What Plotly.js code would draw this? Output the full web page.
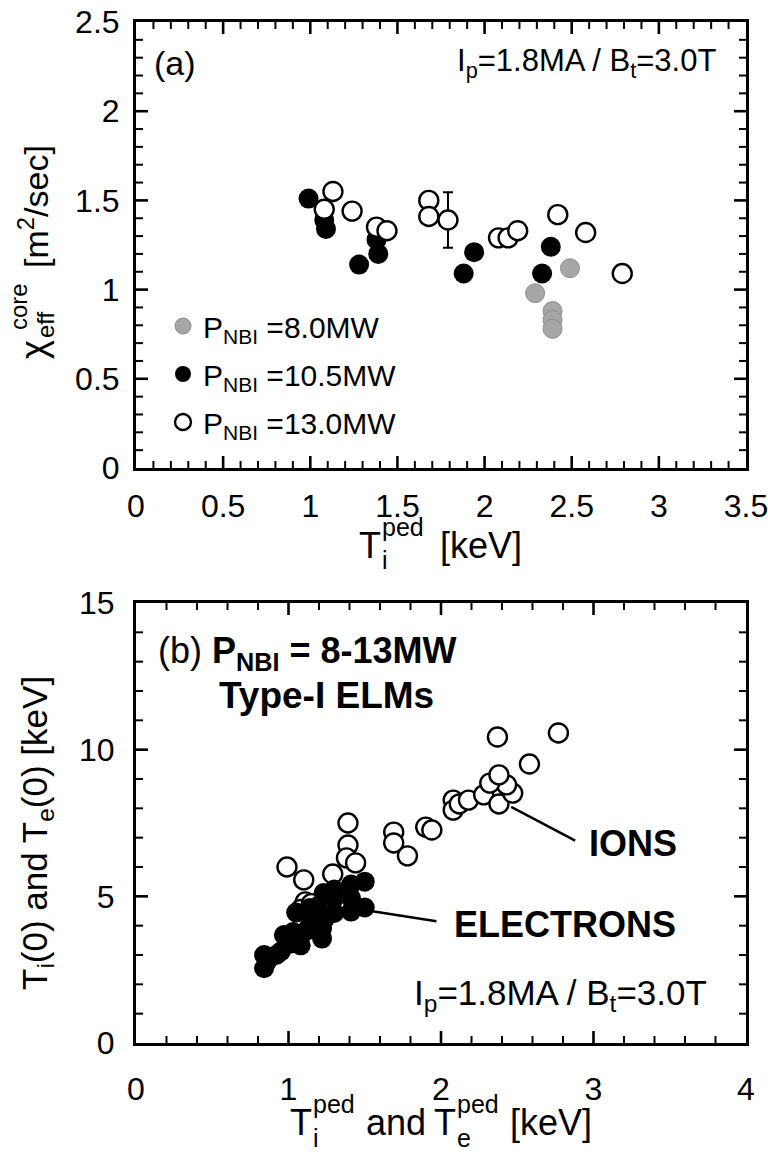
<!DOCTYPE html>
<html>
<head>
<meta charset="utf-8">
<script src="https://cdn.plot.ly/plotly-3.0.1.min.js"></script>
<style>
  html, body { margin: 0; padding: 0; background: #fff; }
  #chart { width: 768px; height: 1152px; }
</style>
</head>
<body>
<div id="chart"></div>
<script>
// ---- Panel (a): core effective heat diffusivity vs ion pedestal temperature ----
const nbiLabels = ['P<sub>NBI</sub> =8.0MW', 'P<sub>NBI</sub> =10.5MW', 'P<sub>NBI</sub> =13.0MW'];

const tiPed_8  = [2.29, 2.49, 2.39, 2.39, 2.39];
const chi_8    = [0.98, 1.12, 0.88, 0.83, 0.78];

const tiPed_105 = [0.99, 1.08, 1.09, 1.28, 1.38, 1.39, 1.88, 1.94, 2.33, 2.38];
const chi_105   = [1.51, 1.39, 1.34, 1.14, 1.28, 1.20, 1.09, 1.21, 1.09, 1.24];

const tiPed_13 = [1.13, 1.08, 1.24, 1.38, 1.44, 1.68, 1.68, 2.08, 2.135, 2.19, 2.42, 2.58, 2.79];
const chi_13   = [1.55, 1.45, 1.44, 1.35, 1.33, 1.50, 1.41, 1.29, 1.29, 1.33, 1.42, 1.32, 1.09];

// 13.0 MW shot shown with its uncertainty
const tiPed_err  = [1.79];
const chi_err    = [1.39];
const chi_errBar = [0.155];

// ---- Panel (b): central temperatures vs pedestal temperatures ----
const ionPed  = [0.99, 1.10, 1.29, 1.39, 1.39, 1.38, 1.44, 1.69, 1.69, 1.78, 1.90, 1.94, 1.11, 1.08, 1.15,
                 2.08, 2.08, 2.12, 2.18, 2.28, 2.38, 2.47, 2.43, 2.32, 2.38, 2.58, 2.37, 2.77];
const ionCore = [6.00, 5.56, 5.76, 7.50, 6.75, 6.31, 6.14, 7.19, 6.82, 6.38, 7.36, 7.26, 4.81, 4.55, 4.75,
                 8.28, 7.94, 8.15, 8.28, 8.46, 8.15, 8.52, 8.80, 8.86, 9.14, 9.51, 10.43, 10.57];

const elecPed  = [0.84, 0.86, 0.84, 0.92, 0.95, 1.01, 1.08, 0.97, 1.03, 1.11, 1.22, 1.14, 1.22, 1.16,
                  1.24, 1.05, 1.14, 1.19, 1.30, 1.41, 1.50, 1.30, 1.41, 1.23, 1.30, 1.41, 1.50];
const elecCore = [2.55, 2.78, 3.00, 3.00, 3.12, 3.38, 3.33, 3.68, 3.78, 3.80, 3.56, 4.02, 3.90, 4.15,
                  4.25, 4.45, 4.60, 4.66, 4.43, 4.48, 4.62, 4.94, 4.94, 5.11, 5.23, 5.40, 5.50];

// ---- page geometry helpers (pixels -> paper fractions) ----
const W = 768, H = 1152;
const px = v => v / W;
const py = v => 1 - v / H;
const FONT = 'Liberation Sans, Arial, Helvetica, sans-serif';
const BLACK = '#000';

// plot boxes of the two panels, in page pixels
const boxA = { l: 136, r: 746, t: 22, b: 468 };
const boxB = { l: 136, r: 746, t: 603, b: 1043 };

// axis scales: range, major step, minor step
const scaleAx = { range: [0, 3.5], major: 0.5, minor: 0.1 };
const scaleAy = { range: [0, 2.5], major: 0.5, minor: 0.1 };
const scaleBx = { range: [0, 4], major: 1, minor: 0.2 };
const scaleBy = { range: [0, 15], major: 5, minor: 1 };

const openMarker  = { symbol: 'circle', size: 19, color: '#fff', line: { color: BLACK, width: 2.4 } };
const solidMarker = { symbol: 'circle', size: 20, color: BLACK, line: { color: BLACK, width: 0 } };
const grayMarker  = { symbol: 'circle', size: 19, color: '#a6a6a6', line: { color: '#8e8e8e', width: 1 } };

const traces = [
  { x: tiPed_8, y: chi_8, name: nbiLabels[0], mode: 'markers', marker: grayMarker,
    xaxis: 'x', yaxis: 'y', legendgroup: 'g1' },
  { x: tiPed_105, y: chi_105, name: nbiLabels[1], mode: 'markers', marker: solidMarker,
    xaxis: 'x', yaxis: 'y', legendgroup: 'g2' },
  { x: tiPed_13, y: chi_13, name: nbiLabels[2], mode: 'markers', marker: openMarker,
    xaxis: 'x', yaxis: 'y', legendgroup: 'g3' },
  { x: tiPed_err, y: chi_err, mode: 'markers', marker: openMarker, showlegend: false,
    error_y: { type: 'data', array: chi_errBar, visible: true, color: BLACK, thickness: 2, width: 5 },
    xaxis: 'x', yaxis: 'y' },
  { x: ionPed, y: ionCore, mode: 'markers', marker: openMarker, showlegend: false,
    xaxis: 'x2', yaxis: 'y2' },
  { x: elecPed, y: elecCore, mode: 'markers', marker: solidMarker, showlegend: false,
    xaxis: 'x2', yaxis: 'y2' }
];

// main axes: frame line and tick labels
function mainAxis(scale, extra) {
  return Object.assign({
    range: scale.range, tick0: 0, dtick: scale.major,
    showline: true, linewidth: 3, linecolor: BLACK, mirror: true,
    ticks: '', showgrid: false, zeroline: false, ticklabeloverflow: 'allow',
    tickfont: { family: FONT, size: 32, color: BLACK }
  }, extra);
}

// Inward tick marks on all four sides of a frame. Tick lengths are given in
// pixels and turned into data units with the frame size.
const MAJOR_LEN = 12, MINOR_LEN = 7;
function frameTicks(xa, ya, sx, sy, box) {
  const out = [];
  const spanX = sx.range[1] - sx.range[0], spanY = sy.range[1] - sy.range[0];
  const perPxX = spanX / (box.r - box.l), perPxY = spanY / (box.b - box.t);

  const nX = Math.round(spanX / sx.minor), stepX = Math.round(sx.major / sx.minor);
  for (let i = 1; i < nX; i++) {
    const v = sx.range[0] + i * sx.minor;
    const major = i % stepX === 0;
    const len = (major ? MAJOR_LEN : MINOR_LEN) * perPxY;
    const line = { color: BLACK, width: major ? 2.6 : 2 };
    out.push({ type: 'line', xref: xa, yref: ya, layer: 'above', x0: v, x1: v,
               y0: sy.range[0], y1: sy.range[0] + len, line: line });
    out.push({ type: 'line', xref: xa, yref: ya, layer: 'above', x0: v, x1: v,
               y0: sy.range[1], y1: sy.range[1] - len, line: line });
  }

  const nY = Math.round(spanY / sy.minor), stepY = Math.round(sy.major / sy.minor);
  for (let i = 1; i < nY; i++) {
    const v = sy.range[0] + i * sy.minor;
    const major = i % stepY === 0;
    const len = (major ? MAJOR_LEN : MINOR_LEN) * perPxX;
    const line = { color: BLACK, width: major ? 2.6 : 2 };
    out.push({ type: 'line', xref: xa, yref: ya, layer: 'above', y0: v, y1: v,
               x0: sx.range[0], x1: sx.range[0] + len, line: line });
    out.push({ type: 'line', xref: xa, yref: ya, layer: 'above', y0: v, y1: v,
               x0: sx.range[1], x1: sx.range[1] - len, line: line });
  }
  return out;
}

function txt(text, x, y, size, opts) {
  return Object.assign({
    text: text, x: x, y: y, xref: 'paper', yref: 'paper', showarrow: false,
    xanchor: 'left', yanchor: 'middle', font: { family: FONT, size: size, color: BLACK }
  }, opts || {});
}
function dataTxt(text, x, y, size, xa, ya, opts) {
  return Object.assign({
    text: text, x: x, y: y, xref: xa, yref: ya, showarrow: false,
    xanchor: 'left', yanchor: 'middle', font: { family: FONT, size: size, color: BLACK }
  }, opts || {});
}

const annotations = [
  // panel (a) labels
  dataTxt('(a)', 0.09, 2.27, 34, 'x', 'y'),
  dataTxt('I<sub>p</sub>=1.8MA / B<sub>t</sub>=3.0T', 3.34, 2.27, 31, 'x', 'y', { xanchor: 'right' }),
  // panel (a) x title  T_i^ped [keV]
  txt('T', px(357), py(545), 36),
  txt('ped', px(380), py(527), 25),
  txt('i', px(380), py(560), 25),
  txt('[keV]', px(438), py(545), 36),
  // panel (a) y title  chi_eff^core [m^2/sec]
  txt('\u03c7', px(33), py(350), 36, { xanchor: 'center', textangle: -90 }),
  txt('core', px(18), py(307), 24, { xanchor: 'center', textangle: -90 }),
  txt('eff', px(45), py(325), 24, { xanchor: 'center', textangle: -90 }),
  txt('[m<sup>2</sup>/sec]', px(33), py(207), 34, { xanchor: 'center', textangle: -90 }),

  // panel (b) labels
  dataTxt('(b) <b>P<sub>NBI</sub> = 8-13MW</b>', 0.13, 13.3, 36, 'x2', 'y2'),
  dataTxt('<b>Type-I ELMs</b>', 0.53, 11.85, 37, 'x2', 'y2'),
  dataTxt('<b>IONS</b>', 2.96, 6.8, 36, 'x2', 'y2'),
  dataTxt('<b>ELECTRONS</b>', 2.07, 4.05, 36, 'x2', 'y2'),
  dataTxt('I<sub>p</sub>=1.8MA / B<sub>t</sub>=3.0T', 3.76, 1.65, 35, 'x2', 'y2', { xanchor: 'right' }),
  // panel (b) x title  T_i^ped and T_e^ped [keV]
  txt('T', px(288), py(1122), 36),
  txt('ped', px(311), py(1104), 25),
  txt('i', px(311), py(1138), 25),
  txt('and', px(364), py(1122), 36),
  txt('T', px(432), py(1122), 36),
  txt('ped', px(455), py(1104), 25),
  txt('e', px(455), py(1138), 25),
  txt('[keV]', px(508), py(1122), 36),
  // panel (b) y title
  txt('T<sub>i</sub>(0) and T<sub>e</sub>(0) [keV]', px(37), py(833), 35, { xanchor: 'center', textangle: -90 })
];

// leader lines from the point clouds to their labels, then the frame ticks
const shapes = [
  { type: 'line', xref: 'x2', yref: 'y2', x0: 2.46, y0: 8.05, x1: 2.88, y1: 6.9, line: { color: BLACK, width: 2.5 } },
  { type: 'line', xref: 'x2', yref: 'y2', x0: 1.54, y0: 4.50, x1: 1.97, y1: 4.15, line: { color: BLACK, width: 2.5 } }
].concat(frameTicks('x', 'y', scaleAx, scaleAy, boxA), frameTicks('x2', 'y2', scaleBx, scaleBy, boxB));

const layout = {
  width: W, height: H,
  margin: { l: 0, r: 0, t: 0, b: 0 },
  paper_bgcolor: '#fff', plot_bgcolor: '#fff',
  font: { family: FONT, color: BLACK },
  showlegend: true,
  legend: {
    x: px(163), y: py(300), xanchor: 'left', yanchor: 'top',
    bgcolor: 'rgba(0,0,0,0)', borderwidth: 0,
    font: { family: FONT, size: 30, color: BLACK },
    itemsizing: 'trace', tracegroupgap: 6
  },
  xaxis:  mainAxis(scaleAx, { domain: [px(boxA.l), px(boxA.r)], anchor: 'y', ticklabelstandoff: 8 }),
  yaxis:  mainAxis(scaleAy, { domain: [py(boxA.b), py(boxA.t)], anchor: 'x', ticklabelstandoff: 7 }),
  xaxis2: mainAxis(scaleBx, { domain: [px(boxB.l), px(boxB.r)], anchor: 'y2', ticklabelstandoff: 16 }),
  yaxis2: mainAxis(scaleBy, { domain: [py(boxB.b), py(boxB.t)], anchor: 'x2', ticklabelstandoff: 12 }),
  annotations: annotations,
  shapes: shapes
};

Plotly.newPlot('chart', traces, layout, { displayModeBar: false });
</script>
</body>
</html>
